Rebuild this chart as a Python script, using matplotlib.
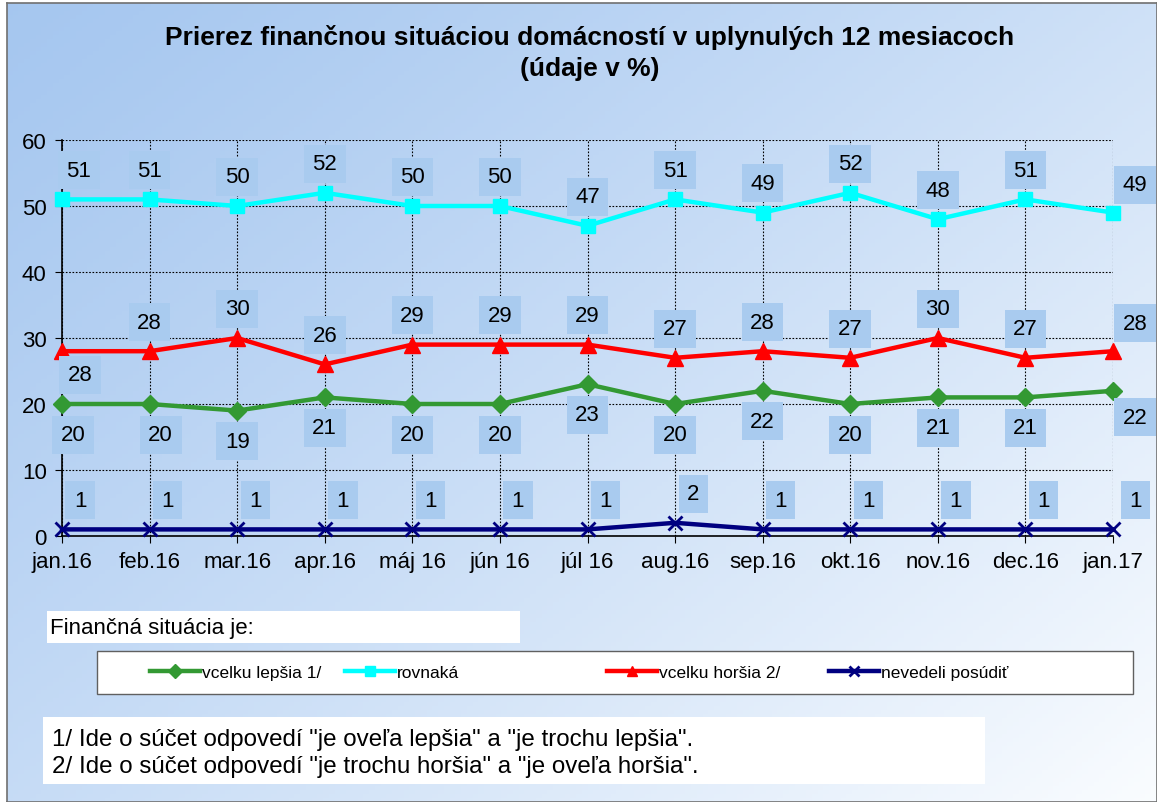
import matplotlib
matplotlib.use("Agg")
import matplotlib.pyplot as plt
import numpy as np
from matplotlib.patches import Rectangle

plt.rcParams['font.family'] = ['Liberation Sans', 'DejaVu Sans']

# data
months = ["jan.16", "feb.16", "mar.16", "apr.16", "máj 16", "jún 16", "júl 16",
          "aug.16", "sep.16", "okt.16", "nov.16", "dec.16", "jan.17"]
lepsia = [20, 20, 19, 21, 20, 20, 23, 20, 22, 20, 21, 21, 22]
rovnaka = [51, 51, 50, 52, 50, 50, 47, 51, 49, 52, 48, 51, 49]
horsia = [28, 28, 30, 26, 29, 29, 29, 27, 28, 27, 30, 27, 28]
nevedeli = [1, 1, 1, 1, 1, 1, 1, 2, 1, 1, 1, 1, 1]

W, H = 1157, 803
fig = plt.figure(figsize=(W / 100, H / 100), dpi=100)
fig.patch.set_facecolor("white")

# gradient background
bg = fig.add_axes([7 / W, 0, 1 - 7 / W, 1 - 4 / H])
yy, xx = np.mgrid[0:1:200j, 0:1:200j]
t = np.clip((xx * 0.55 + yy * 0.45), 0, 1) ** 1.2
c0 = np.array([0.65, 0.78, 0.94])
c1 = np.array([0.98, 0.99, 1.0])
img = c0[None, None, :] * (1 - t[..., None]) + c1[None, None, :] * t[..., None]
bg.imshow(img, aspect="auto", extent=[0, 1, 0, 1], origin="upper")
bg.set_xticks([])
bg.set_yticks([])
for s in bg.spines.values():
    s.set_color("#707070")
    s.set_linewidth(1.2)

ax = fig.add_axes([62 / W, 1 - 537 / H, (1113 - 62) / W, (537 - 141) / H])
ax.set_facecolor("none")
x = np.arange(len(months))

series = [
    (lepsia, "#339933", "D", 9, "vcelku lepšia 1/"),
    (rovnaka, "#00ffff", "s", 10, "rovnaká"),
    (horsia, "#ff0000", "^", 11, "vcelku horšia 2/"),
    (nevedeli, "#000080", "x", 10, "nevedeli posúdiť"),
]
handles = []
for vals, col, mk, ms, name in series:
    h, = ax.plot(x, vals, color=col, lw=3.2, marker=mk, markersize=ms,
                 markeredgewidth=2 if mk == "x" else 1, markeredgecolor=col,
                 label=name, clip_on=False, zorder=3)
    handles.append(h)

ax.set_xlim(0, 12)
ax.set_ylim(0, 60)
ax.set_yticks(range(0, 61, 10))
ax.set_xticks(x)
ax.set_xticklabels(months)
ax.tick_params(labelsize=16, length=5, direction="out", color="black")
ax.tick_params(axis="x", pad=6)
ax.tick_params(axis="y", pad=6)
ax.grid(True, color="black", linestyle=(0, (1.5, 1.5)), linewidth=0.8)
ax.spines["top"].set_visible(False)
ax.spines["right"].set_visible(False)
ax.spines["left"].set_linewidth(1.2)
ax.spines["bottom"].set_linewidth(1.2)

box = dict(boxstyle="square,pad=0.38", fc="#a9cbef", ec="none")


def label(xi, v, dx, dy):
    ax.annotate(str(v), (xi, v), xytext=(dx, dy), textcoords="offset points",
                ha="center", va="center", fontsize=16, bbox=box, zorder=4,
                annotation_clip=False)


for i, v in enumerate(rovnaka):
    if i == 12:
        label(i, v, 16, 20)
    else:
        label(i, v, 12 if i == 0 else 0, 21)
for i, v in enumerate(horsia):
    if i == 0:
        label(i, v, 13, -17)
    elif i == 12:
        label(i, v, 16, 20)
    else:
        label(i, v, 0, 21)
for i, v in enumerate(lepsia):
    if i == 12:
        label(i, v, 16, -19)
    else:
        label(i, v, 8 if i < 2 else 0, -22)
for i, v in enumerate(nevedeli):
    label(i, v, 16 if i == 12 else 13, 21)

fig.text(590 / W, 1 - 37 / H, "Prierez finančnou situáciou domácností v uplynulých 12 mesiacoch",
         ha="center", va="center", fontsize=19, fontweight="bold")
fig.text(590 / W, 1 - 69 / H, "(údaje v %)", ha="center", va="center",
         fontsize=19, fontweight="bold")

# "Finančná situácia je:" box
fig.patches.append(Rectangle((47 / W, 1 - 644 / H), (520 - 47) / W, 32 / H,
                             transform=fig.transFigure, fc="white", ec="none"))
fig.text(50 / W, 1 - 629 / H, "Finančná situácia je:", fontsize=16, va="center")

# legend box and entries
fig.patches.append(Rectangle((97 / W, 1 - 695 / H), (1133 - 97) / W, 43 / H,
                             transform=fig.transFigure, fc="white", ec="#606060", lw=1.0))
leg_x = [150, 345, 607, 829]
for h, lx in zip(handles, leg_x):
    lg = fig.legend(handles=[h], loc="center left", bbox_to_anchor=(lx / W, 1 - 673 / H),
                    fontsize=12.5, frameon=False, handlelength=2.9, handletextpad=0.1,
                    borderpad=0, borderaxespad=0)
    for lh in lg.legend_handles:
        lh.set_markersize(7)

# footnote box
fig.patches.append(Rectangle((43 / W, 1 - 785 / H), (985 - 43) / W, 67 / H,
                             transform=fig.transFigure, fc="white", ec="none"))
fig.text(52 / W, 1 - 740 / H, '1/ Ide o súčet odpovedí "je oveľa lepšia" a "je trochu lepšia".',
         fontsize=17.4, va="center")
fig.text(52 / W, 1 - 767 / H, '2/ Ide o súčet odpovedí "je trochu horšia" a "je oveľa horšia".',
         fontsize=17.4, va="center")

fig.savefig("out.png", dpi=100)
